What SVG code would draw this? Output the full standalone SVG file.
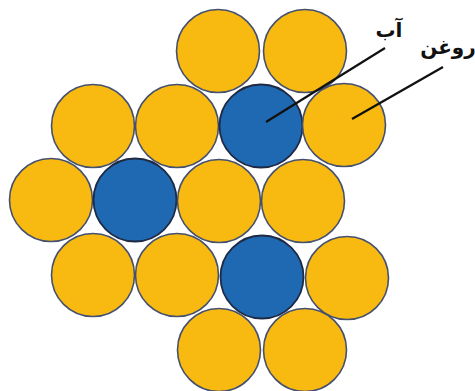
<svg xmlns="http://www.w3.org/2000/svg" width="475" height="391" viewBox="0 0 475 391">
<style>
.o{fill:#F8BA10;stroke:#44506E;stroke-width:1.6}
.b{fill:#1F68B2;stroke:#1E2A44;stroke-width:1.8}
.l{stroke:#111;stroke-width:2.2;fill:none}
.t{font-family:"DejaVu Sans",sans-serif;font-weight:bold;font-size:20px;fill:#111}
</style>
<rect width="475" height="391" fill="#fff"/>
<g id="r1c1"><circle class="o" cx="218" cy="51" r="41.5"/></g>
<g id="r1c2"><circle class="o" cx="305" cy="51" r="41.5"/></g>
<g id="r2c1"><circle class="o" cx="93" cy="126" r="41.5"/></g>
<g id="r2c2"><circle class="o" cx="177" cy="126" r="41.5"/></g>
<g id="r2c3"><circle class="b" cx="261" cy="126" r="41.5"/></g>
<g id="r2c4"><circle class="o" cx="344" cy="125" r="41.5"/></g>
<g id="r3c1"><circle class="o" cx="51" cy="200" r="41.5"/></g>
<g id="r3c2"><circle class="b" cx="135" cy="200" r="41.5"/></g>
<g id="r3c3"><circle class="o" cx="219" cy="201" r="41.5"/></g>
<g id="r3c4"><circle class="o" cx="303" cy="201" r="41.5"/></g>
<g id="r4c1"><circle class="o" cx="93" cy="275" r="41.5"/></g>
<g id="r4c2"><circle class="o" cx="177" cy="275" r="41.5"/></g>
<g id="r4c3"><circle class="b" cx="262" cy="277" r="41.5"/></g>
<g id="r4c4"><circle class="o" cx="347" cy="278" r="41.5"/></g>
<g id="r5c1"><circle class="o" cx="219" cy="350" r="41.5"/></g>
<g id="r5c2"><circle class="o" cx="305" cy="350" r="41.5"/></g>
<g id="connectors">
<line class="l" x1="266" y1="122" x2="385" y2="48"/>
<line class="l" x1="352" y1="119" x2="443" y2="67"/>
</g>
<g id="label-water"><text class="t" x="389" y="37" text-anchor="middle">آب</text></g>
<g id="label-oil"><text class="t" x="448" y="54" text-anchor="middle">روغن</text></g>
</svg>
